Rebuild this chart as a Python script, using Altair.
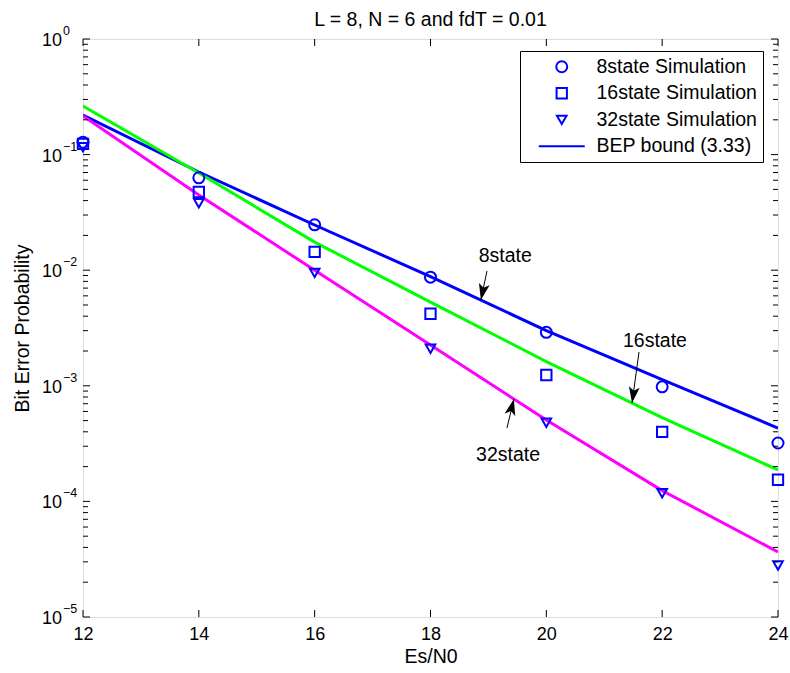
import altair as alt
import pandas as pd

# ---------------- data ----------------
es_n0 = [12, 14, 16, 18, 20, 22, 24]

sim_8state = [0.128, 0.063, 0.0247, 0.0087, 0.0029, 0.00098, 0.00032]
sim_16state = [0.124, 0.0475, 0.0144, 0.0042, 0.00124, 0.00040, 0.000154]
sim_32state = [0.116, 0.038, 0.0095, 0.0021, 0.00048, 0.000118, 0.000028]

bound_8state = [0.220, 0.0707, 0.0246, 0.0088, 0.0030, 0.00113, 0.000431]
bound_16state = [0.263, 0.0693, 0.0175, 0.0053, 0.00162, 0.00053, 0.000187]
bound_32state = [0.216, 0.0447, 0.0100, 0.00225, 0.000506, 0.000124, 0.0000365]

sim_labels = ["8state Simulation", "16state Simulation", "32state Simulation"]
bound_label = "BEP bound (3.33)"
curve_names = ["8state", "16state", "32state"]

x_ticks = [12, 14, 16, 18, 20, 22, 24]
decades = [1, 0.1, 0.01, 0.001, 0.0001, 0.00001]
exponents = ["0", "\u22121", "\u22122", "\u22123", "\u22124", "\u22125"]
mantissas = [2, 3, 4, 5, 6, 7, 8, 9]

ann_labels = ["8state", "16state", "32state"]
ann_text_x = [19.29, 21.875, 19.34]
ann_text_y = [0.0133, 0.00244, 0.000252]
arrow_tail_x = [18.975, 21.6, 19.32]
arrow_tail_y = [0.00984, 0.00196, 0.000431]
arrow_head_x = [18.87, 21.48, 19.44]
arrow_head_y = [0.00552, 0.00071, 0.000769]
arrow_angle = [192, 188, 14]

title_text = "L = 8, N = 6 and fdT = 0.01"
FONT = "Liberation Sans"
TXT = 19.5

# ---------------- tables ----------------
pts = pd.DataFrame(
    [(x, v, lab) for lab, vals in zip(sim_labels, [sim_8state, sim_16state, sim_32state])
     for x, v in zip(es_n0, vals)],
    columns=["x", "ber", "series"])
lines = pd.DataFrame(
    [(x, v, c) for c, vals in zip(curve_names, [bound_8state, bound_16state, bound_32state])
     for x, v in zip(es_n0, vals)],
    columns=["x", "ber", "curve"])
xt = pd.DataFrame({"t": x_ticks})
dec = pd.DataFrame({"v": decades, "e": exponents, "b": ["10"] * len(decades)})
minor = pd.DataFrame({"v": [m * d for d in decades[1:] for m in mantissas]})
ann = pd.DataFrame({"label": ann_labels, "tx": ann_text_x, "ty": ann_text_y,
                    "x1": arrow_tail_x, "y1": arrow_tail_y,
                    "x2": arrow_head_x, "y2": arrow_head_y, "ang": arrow_angle})

W, H = 695, 578
xscale = alt.Scale(domain=[12, 24], nice=False, zero=False)
yscale = alt.Scale(type="log", domain=[1e-5, 1], nice=False)

X_AX = alt.Axis(values=x_ticks, ticks=False, domain=False, grid=False,
                labelFont=FONT, labelFontSize=18, labelColor="black", labelPadding=8,
                labelFlush=False, title="Es/N0", titleFont=FONT, titleFontSize=TXT,
                titleFontWeight="normal", titleColor="black", titlePadding=4)
Y_AX = alt.Axis(labels=False, ticks=False, domain=False, grid=False,
                title="Bit Error Probability", titleFont=FONT, titleFontSize=TXT,
                titleFontWeight="normal", titleColor="black", titleAngle=270,
                titleX=-61, titleY=289, titleAlign="center", titleBaseline="middle")

legend_domain = sim_labels + [bound_label]
leg = alt.Legend(title=None, orient="none", legendX=437, legendY=12, direction="vertical",
                 strokeColor="black", fillColor="white", padding=6, cornerRadius=0,
                 labelFont=FONT, labelFontSize=TXT, labelColor="black", labelLimit=400,
                 symbolStrokeColor="#0000ff", symbolStrokeWidth=2, symbolFillColor="transparent",
                 symbolOffset=26, labelOffset=25, rowPadding=5.5)

TRI_DOWN = "M-1,-0.85L1,-0.85L0,0.9Z"

line_layer = alt.Chart(lines).mark_line(strokeWidth=3, clip=True).encode(
    x=alt.X("x:Q", scale=xscale, axis=X_AX),
    y=alt.Y("ber:Q", scale=yscale, axis=Y_AX),
    color=alt.Color("curve:N", scale=alt.Scale(domain=curve_names,
                                               range=["#0000ff", "#00ff00", "#ff00ff"]),
                    legend=None),
)

point_layer = alt.Chart(pts).mark_point(filled=False, strokeWidth=2, color="#0000ff",
                                        opacity=1).encode(
    x=alt.X("x:Q", scale=xscale, axis=X_AX),
    y=alt.Y("ber:Q", scale=yscale, axis=Y_AX),
    shape=alt.Shape("series:N", scale=alt.Scale(domain=legend_domain,
                                                range=["circle", "square", TRI_DOWN,
                                                       "M-5.2,0H5.2"]),
                    legend=leg),
    size=alt.Size("series:N", scale=alt.Scale(domain=legend_domain, range=[121, 78, 180, 121]),
                  legend=leg),
)

# inward ticks on all four sides
xt_bottom = alt.Chart(xt).mark_rule(color="black", strokeWidth=1).encode(
    x=alt.X("t:Q", scale=xscale, axis=X_AX), y=alt.value(H), y2=alt.value(H - 7))
xt_top = alt.Chart(xt).mark_rule(color="black", strokeWidth=1).encode(
    x=alt.X("t:Q", scale=xscale, axis=X_AX), y=alt.value(0), y2=alt.value(7))
yt_left = alt.Chart(dec).mark_rule(color="black", strokeWidth=1).encode(
    y=alt.Y("v:Q", scale=yscale, axis=Y_AX), x=alt.value(0), x2=alt.value(7))
yt_right = alt.Chart(dec).mark_rule(color="black", strokeWidth=1).encode(
    y=alt.Y("v:Q", scale=yscale, axis=Y_AX), x=alt.value(W), x2=alt.value(W - 7))
ym_left = alt.Chart(minor).mark_rule(color="black", strokeWidth=1).encode(
    y=alt.Y("v:Q", scale=yscale, axis=Y_AX), x=alt.value(0), x2=alt.value(5))
ym_right = alt.Chart(minor).mark_rule(color="black", strokeWidth=1).encode(
    y=alt.Y("v:Q", scale=yscale, axis=Y_AX), x=alt.value(W), x2=alt.value(W - 5))

# y tick labels: 10 with a superscript exponent
ylab_base = alt.Chart(dec).mark_text(align="right", baseline="alphabetic", dy=7, font=FONT,
                                     fontSize=18, color="black").encode(
    y=alt.Y("v:Q", scale=yscale, axis=Y_AX), x=alt.value(-21), text="b:N")
ylab_exp = alt.Chart(dec).mark_text(align="left", baseline="alphabetic", dy=-4, font=FONT,
                                    fontSize=12.5, color="black").encode(
    y=alt.Y("v:Q", scale=yscale, axis=Y_AX), x=alt.value(-20), text="e:N")

# annotations with arrows
ann_text = alt.Chart(ann).mark_text(font=FONT, fontSize=TXT, color="black",
                                    baseline="middle", align="center").encode(
    x=alt.X("tx:Q", scale=xscale, axis=X_AX), y=alt.Y("ty:Q", scale=yscale, axis=Y_AX),
    text="label:N")
ann_line = alt.Chart(ann).mark_rule(color="black", strokeWidth=1).encode(
    x=alt.X("x1:Q", scale=xscale, axis=X_AX), y=alt.Y("y1:Q", scale=yscale, axis=Y_AX),
    x2="x2:Q", y2="y2:Q")
ann_head = alt.Chart(ann).mark_point(shape="M0,0 L0.5,1.5 L0,1.15 L-0.5,1.5 Z", filled=True,
                                     color="black", opacity=1, size=470).encode(
    x=alt.X("x2:Q", scale=xscale, axis=X_AX), y=alt.Y("y2:Q", scale=yscale, axis=Y_AX),
    angle=alt.Angle("ang:Q", scale=None))

chart = alt.layer(
    line_layer, ylab_base, ylab_exp, point_layer,
    xt_bottom, xt_top, yt_left, yt_right, ym_left, ym_right,
    ann_line, ann_head, ann_text,
).resolve_scale(color="independent").properties(
    width=W, height=H,
    title=alt.TitleParams(title_text, font=FONT, fontSize=TXT, fontWeight="normal",
                          color="black", anchor="middle", offset=-5),
    autosize=alt.AutoSizeParams(type="none"),
    padding={"left": 83, "top": 39, "right": 12, "bottom": 56},
).configure_view(stroke="black", strokeWidth=1.2).configure(background="white")

chart.save("out.html", embed_options={"renderer": "svg", "actions": False})
